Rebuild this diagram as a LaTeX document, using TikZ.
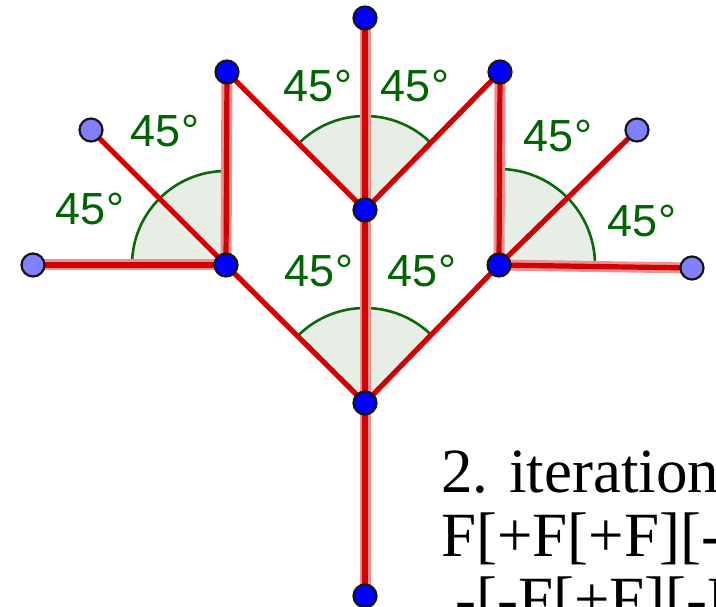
\documentclass[tikz,border=0pt]{standalone}
\usepackage{fontspec}
\setmainfont{Liberation Serif}
\newfontfamily\labfont{Liberation Sans}
\definecolor{redline}{HTML}{D20000}
\definecolor{haloc}{HTML}{EC9090}
\definecolor{wedgefill}{HTML}{E6EEE6}
\definecolor{arcgreen}{HTML}{0A6A0A}
\definecolor{labgreen}{HTML}{006400}
\definecolor{ptdark}{HTML}{0000FF}
\definecolor{ptlight}{HTML}{8080FF}
\definecolor{ptedge}{HTML}{151515}
\newcommand\angwedge[4]{% center, radius, start, end
  \fill[wedgefill] (#1) -- ++(#3:#2) arc[start angle=#3, end angle=#4, radius=#2] -- cycle;
  \draw[arcgreen, line width=2.6] (#1) ++(#3:#2) arc[start angle=#3, end angle=#4, radius=#2];
}
\begin{document}
\begin{tikzpicture}[x=1pt,y=-1pt,
  core/.style={redline, line width=5.2},
  halostroke/.style={haloc, line width=11},
  ptd/.style={circle, fill=ptdark, draw=ptedge, line width=2.2, minimum size=23, inner sep=0},
  ptl/.style={circle, fill=ptlight, draw=ptedge, line width=2.2, minimum size=23, inner sep=0},
  lab/.style={text=labgreen, font=\labfont\fontsize{45}{45}\selectfont, inner sep=0},
  txt/.style={font=\fontsize{63}{63}\selectfont, inner sep=0, anchor=base west}]
\useasboundingbox (0,0) rectangle (716,607);
\clip (0,0) rectangle (716,607);
\fill[white] (0,0) rectangle (716,607);
% coordinates
\coordinate (Bot) at (365,596);
\coordinate (A) at (365,403);
\coordinate (B) at (365,210);
\coordinate (T) at (365,18);
\coordinate (L) at (226,265);
\coordinate (R) at (499,265);
\coordinate (UL) at (227,72);
\coordinate (UR) at (500,72);
\coordinate (LL1) at (91,130);
\coordinate (LL2) at (33,265);
\coordinate (RL1) at (637,130);
\coordinate (RL2) at (692,268);
% angle wedges
\angwedge{A}{95}{-45}{-135}
\angwedge{B}{94}{-45}{-135}
\angwedge{L}{94}{-90}{-180}
\angwedge{R}{96}{0}{-90}
% halos of axis-parallel segments
\draw[halostroke] (Bot) -- (A);
\draw[halostroke] (A) -- (B);
\draw[halostroke] (B) -- (T);
\draw[halostroke] (L) -- (UL);
\draw[halostroke] (L) -- (LL2);
\draw[halostroke] (R) -- (UR);
\draw[halostroke] (R) -- (RL2);
% segments
\draw[core] (Bot) -- (A);
\draw[core] (A) -- (B);
\draw[core] (B) -- (T);
\draw[core] (A) -- (L);
\draw[core] (A) -- (R);
\draw[core] (B) -- (UL);
\draw[core] (B) -- (UR);
\draw[core] (L) -- (UL);
\draw[core] (L) -- (LL1);
\draw[core] (L) -- (LL2);
\draw[core] (R) -- (UR);
\draw[core] (R) -- (RL1);
\draw[core] (R) -- (RL2);
% points
\node[ptd] (pBot) at (Bot) {};
\node[ptd] (pA) at (A) {};
\node[ptd] (pB) at (B) {};
\node[ptd] (pT) at (T) {};
\node[ptd] (pL) at (L) {};
\node[ptd] (pR) at (R) {};
\node[ptd] (pUL) at (UL) {};
\node[ptd] (pUR) at (UR) {};
\node[ptl] (pLL1) at (LL1) {};
\node[ptl] (pLL2) at (LL2) {};
\node[ptl] (pRL1) at (RL1) {};
\node[ptl] (pRL2) at (RL2) {};
% angle labels
\node[lab] (a1) at (318,86) {45°};
\node[lab] (a2) at (415,86) {45°};
\node[lab] (a3) at (319,271) {45°};
\node[lab] (a4) at (422,271) {45°};
\node[lab] (a5) at (165,131) {45°};
\node[lab] (a6) at (90,209) {45°};
\node[lab] (a7) at (558,136) {45°};
\node[lab] (a8) at (642,221) {45°};
% text (cut off at the right edge, as in the reference)
\node[txt] (t1) at (441,492) {2. iteration};
\node[txt] (t2) at (441,556) {F[+F[+F][-F]][-F[+F][-F]]};
\node[txt] (t3) at (455,620) {-[-F[+F][-F]]};
\end{tikzpicture}
\end{document}
